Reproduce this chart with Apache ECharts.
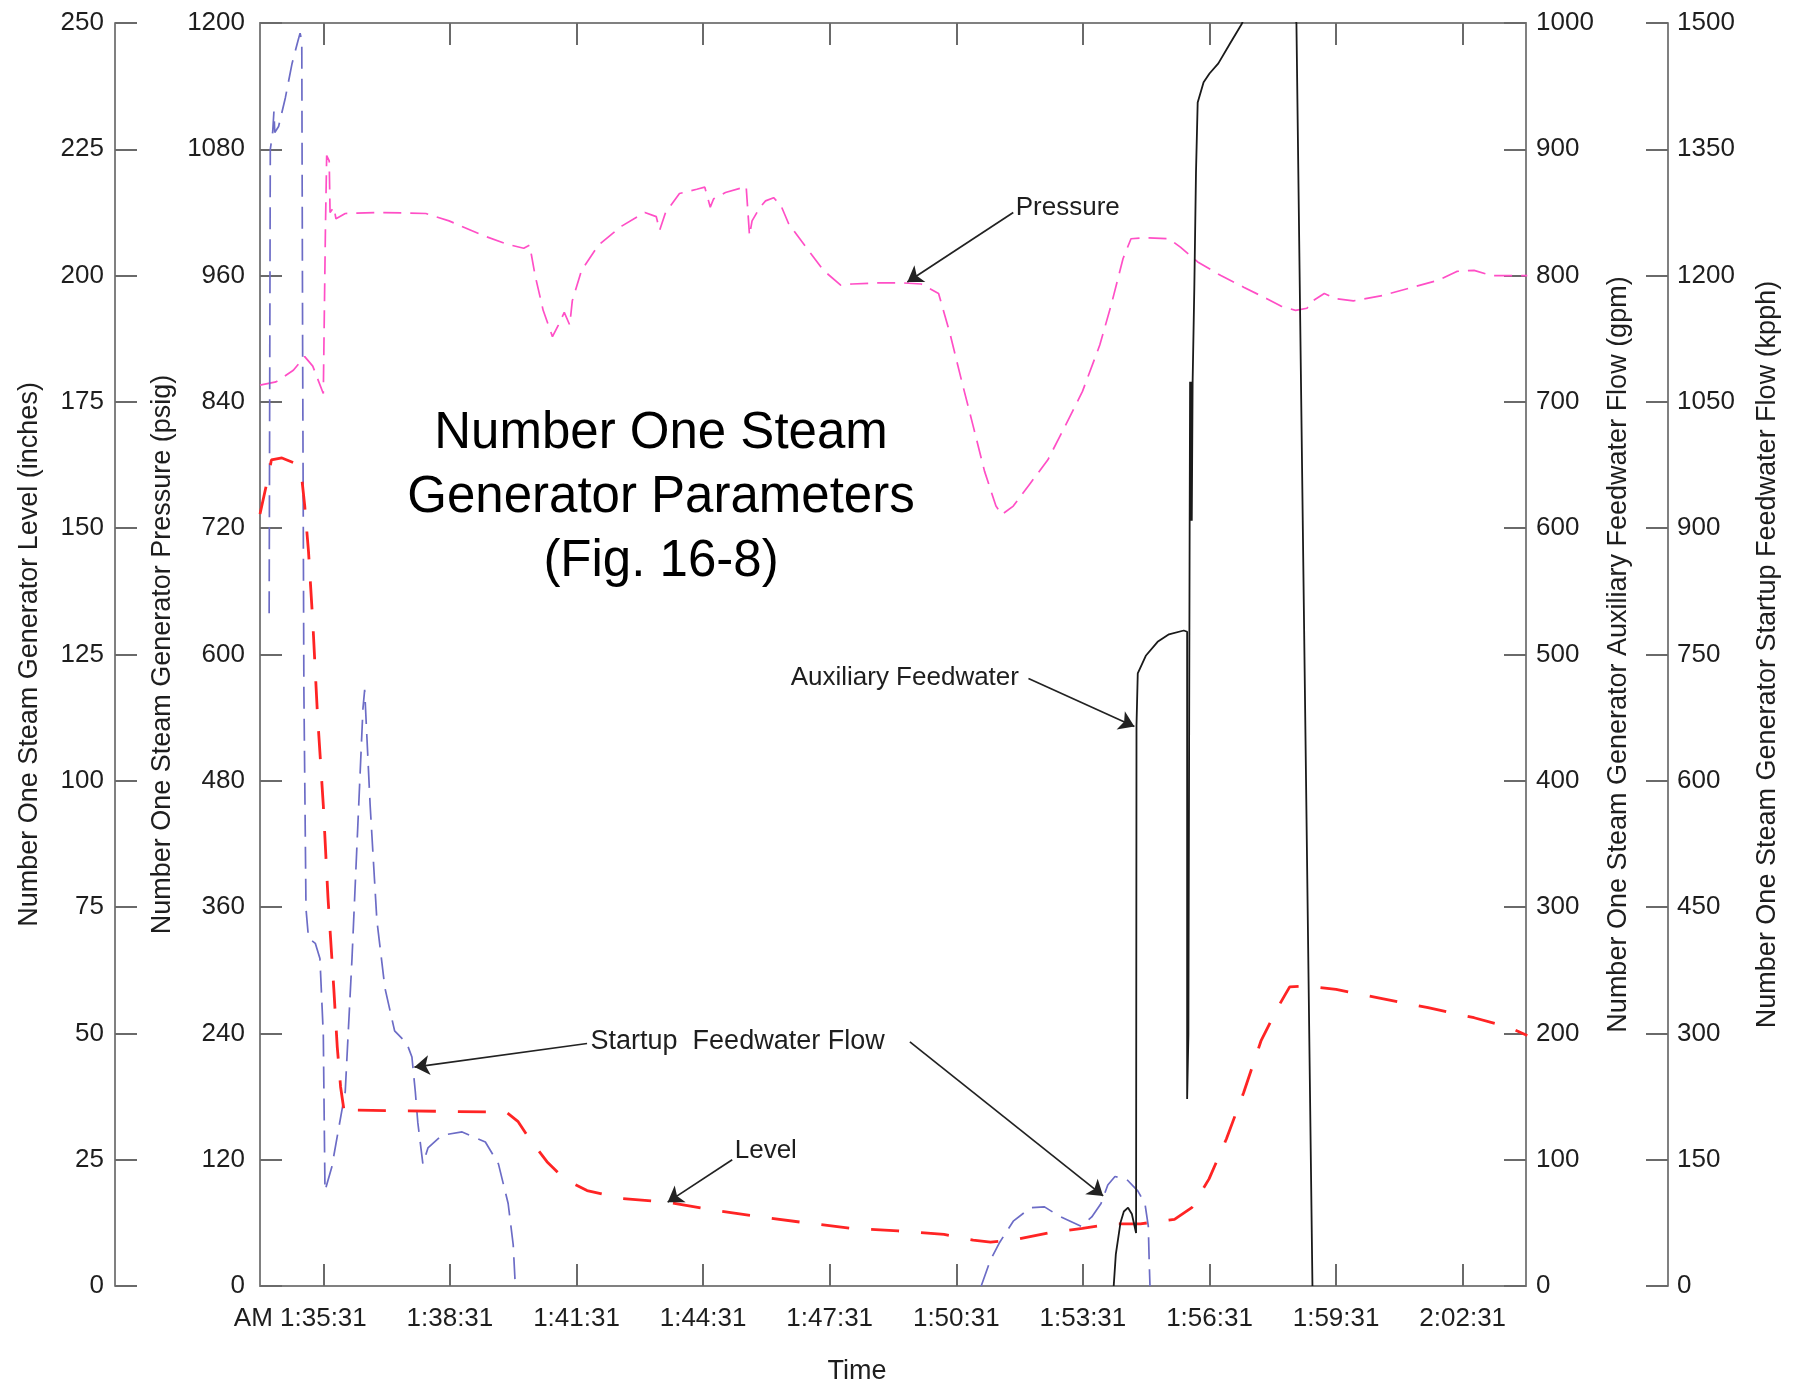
<!DOCTYPE html>
<html>
<head>
<meta charset="utf-8">
<script src="https://cdn.jsdelivr.net/npm/echarts@6/dist/echarts.min.js"></script>
<style>
html,body{margin:0;padding:0;background:#fff;}
#chart{width:1804px;height:1392px;}
</style>
</head>
<body>
<div id="chart"></div>
<script>
// x values: minutes after 1:35:31 AM
const xTickMinutes = [0, 3, 6, 9, 12, 15, 18, 21, 24, 27];
const xTickLabels = ['1:35:31', '1:38:31', '1:41:31', '1:44:31', '1:47:31', '1:50:31', '1:53:31', '1:56:31', '1:59:31', '2:02:31'];

// Steam generator pressure (psig)
const pressureData = [
  [-1.50,856],[-1.12,859],[-0.71,870],[-0.44,883],[-0.25,874],[0.00,848],[0.05,1003],[0.08,1074],[0.14,1069],[0.16,1020],
  [0.25,1025],[0.30,1014],[0.52,1019],[1.34,1020],[2.43,1019],[2.98,1012],[3.79,998],[4.34,990],[4.75,986],[4.89,989],
  [5.02,960],[5.21,927],[5.43,902],[5.57,913],[5.71,925],[5.84,913],[5.90,936],[6.12,965],[6.52,989],[7.07,1007],
  [7.62,1020],[7.89,1016],[7.97,1003],[8.11,1020],[8.44,1038],[8.85,1042],[9.04,1044],[9.17,1025],[9.25,1033],[9.53,1039],
  [9.88,1043],[10.02,1045],[10.10,998],[10.16,1012],[10.35,1025],[10.48,1031],[10.67,1034],[10.84,1027],[11.03,1009],[11.44,987],
  [11.85,965],[12.26,951],[12.53,952],[13.08,953],[13.76,953],[14.17,952],[14.58,943],[14.85,905],[15.12,861],[15.40,817],
  [15.67,774],[15.94,741],[16.08,733],[16.35,741],[16.76,763],[17.17,785],[17.58,817],[17.99,850],[18.40,894],[18.67,932],
  [18.95,976],[19.14,995],[19.49,996],[20.04,995],[20.31,987],[20.72,973],[21.27,960],[21.81,949],[22.36,938],[22.69,931],
  [23.04,927],[23.31,929],[23.45,936],[23.72,943],[24.00,938],[24.41,936],[25.09,941],[25.91,950],[26.45,956],[26.86,964],
  [27.27,965],[27.68,960],[28.53,960]
];

// Steam generator level (inches)
const levelData = [
  [-1.50,152.8],[-1.34,158.9],[-1.23,163.5],[-0.98,163.9],[-0.71,163.0],[-0.52,160.7],[-0.44,154.4],[-0.35,145.3],[-0.25,131.6],[-0.14,113.4],
  [0.00,95.2],[0.11,77.0],[0.25,58.7],[0.33,47.4],[0.41,39.4],[0.49,34.8],[0.60,34.2],[0.68,35.5],[0.79,34.8],[4.34,34.4],
  [4.61,32.6],[4.89,29.1],[5.30,24.6],[5.71,21.2],[6.25,18.9],[7.07,17.3],[8.16,16.6],[9.25,15.0],[10.35,13.7],[11.44,12.5],
  [12.53,11.4],[13.62,10.9],[14.71,10.2],[15.40,9.1],[15.81,8.7],[16.35,9.1],[17.17,10.5],[17.99,11.4],[18.67,12.3],[19.36,12.3],
  [20.17,13.2],[20.58,15.5],[20.99,21.2],[21.40,29.1],[21.81,38.3],[22.22,48.5],[22.63,55.3],[22.90,59.2],[23.31,59.4],[24.00,58.7],
  [25.09,56.9],[26.18,55.1],[27.27,53.1],[28.09,51.2],[28.53,49.6]
];

// Startup feedwater flow (kpph)
const startupData = [
  [-1.283,799],[-1.256,1350],[-1.20,1370],[-1.17,1395],[-1.15,1370],[-1.06,1377],[-0.90,1411],[-0.74,1452],[-0.60,1479],[-0.55,1488],
  [-0.51,1479],[-0.49,1117],[-0.46,708],[-0.41,448],[-0.35,413],[-0.19,407],[-0.08,389],[0.00,299],[0.04,113],[0.20,141],
  [0.52,231],[0.68,389],[0.82,549],[0.94,686],[0.98,708],[1.11,571],[1.27,434],[1.46,354],[1.69,303],[1.98,288],
  [2.10,272],[2.18,231],[2.24,194],[2.36,145],[2.48,164],[2.81,179],[3.29,183],[3.84,171],[4.15,145],[4.38,98],
  [4.50,49],[4.55,0],[10.0,'-'],
  [15.59,0],[15.81,31],[16.03,52],[16.35,77],[16.76,93],[17.09,94],[17.44,83],[17.96,71],[18.21,82],[18.43,98],
  [18.59,120],[18.76,130],[19.03,127],[19.30,113],[19.47,98],[19.55,71],[19.57,31],[19.59,0]
];

// Auxiliary feedwater flow (gpm)
const auxData = [
  [18.73,0],[18.78,25],[18.89,50],[18.97,59],[19.07,62],[19.16,57],[19.26,42],[19.27,444],[19.30,485],[19.49,499],
  [19.77,510],[20.04,516],[20.39,519],[20.47,518],[20.47,148],[20.50,199],[20.53,606],[20.54,716],[20.56,606],[20.57,716],
  [20.58,606],[20.60,716],[20.64,790],[20.68,882],[20.72,937],[20.86,953],[21.00,960],[21.21,968],[21.49,984],[21.76,999],
  [22.30,1040],[22.70,1045],[23.06,1000],[23.44,0]
];

// Annotation arrows [start, end] in each series' own units
const pressureArrow = [[16.35,1020],[13.84,954]];
const auxArrow = [[16.71,481],[19.22,443]];
const startupArrowA = [[6.25,288],[2.16,260]];
const startupArrowB = [[13.90,290],[18.48,107]];
const levelArrow = [[9.69,25.0],[8.16,16.6]];

const FONT = '"Liberation Sans", Arial, Helvetica, sans-serif';
const TXT = '#1e1e1e';
const AXC = '#808080';

function arrowLine(arr) {
  return {
    silent: true,
    symbol: ['none', 'arrow'],
    symbolSize: 15,
    lineStyle: { color: '#222', width: 1.7, type: 'solid' },
    label: { show: false },
    emphasis: { disabled: true },
    animation: false,
    data: arr.map(a => [{ coord: a[0] }, { coord: a[1] }])
  };
}
function textMark(items) {
  return {
    silent: true,
    symbol: 'circle',
    symbolSize: 1,
    itemStyle: { color: 'rgba(0,0,0,0)' },
    animation: false,
    data: items.map(it => ({
      coord: it.coord,
      label: {
        show: true, position: it.pos, distance: it.dist, offset: it.offset,
        formatter: it.text, fontSize: it.size || 25, color: TXT, fontFamily: FONT
      }
    }))
  };
}

function yAxisDef(opt, margin) {
  return Object.assign({
    type: 'value',
    nameLocation: 'middle',
    nameRotate: 90,
    nameTextStyle: { fontSize: 27, color: TXT, fontFamily: FONT },
    axisLine: { show: true, onZero: false, lineStyle: { color: AXC, width: 2 } },
    axisTick: { show: true, inside: true, length: 22, lineStyle: { color: '#6a6a6a', width: 2 } },
    axisLabel: { fontSize: 26, color: TXT, fontFamily: FONT, margin: margin, formatter: v => String(v) },
    splitLine: { show: false }
  }, opt);
}

const chart = echarts.init(document.getElementById('chart'), null, { renderer: 'canvas' });
const option = {
  animation: false,
  backgroundColor: '#ffffff',
  grid: { left: 260, right: 278, top: 23, bottom: 106 },
  graphic: [{
    type: 'text',
    x: 661, y: 402,
    z: 10,
    style: {
      text: 'Number One Steam\nGenerator Parameters\n(Fig. 16-8)',
      font: '51px "Liberation Sans", Arial, sans-serif',
      fill: '#000',
      align: 'center',
      verticalAlign: 'top',
      lineHeight: 64
    }
  }],
  xAxis: [{
    type: 'value', min: -1.5, max: 28.5, position: 'bottom',
    name: 'Time', nameLocation: 'middle', nameGap: 72,
    nameTextStyle: { fontSize: 27, color: TXT, fontFamily: FONT, padding: [0, 72, 0, 0] },
    axisLine: { show: true, onZero: false, lineStyle: { color: AXC, width: 2 } },
    axisTick: { show: true, inside: true, length: 22, customValues: xTickMinutes, lineStyle: { color: '#6a6a6a', width: 2 } },
    axisLabel: {
      customValues: xTickMinutes, margin: 20, fontSize: 26, color: TXT, fontFamily: FONT,
      formatter: function (v) {
        const i = xTickMinutes.findIndex(m => Math.abs(m - v) < 1e-6);
        if (i < 0) return '';
        if (i === 0) return '{am|AM }{t|' + xTickLabels[0] + '}{pad|}';
        return xTickLabels[i];
      },
      rich: {
        am: { fontSize: 26, color: TXT, fontFamily: FONT },
        t: { fontSize: 26, color: TXT, fontFamily: FONT },
        pad: { width: 46 }
      }
    },
    splitLine: { show: false }
  }, {
    type: 'value', min: -1.5, max: 28.5, position: 'top',
    axisLine: { show: true, onZero: false, lineStyle: { color: AXC, width: 2 } },
    axisTick: { show: true, inside: true, length: 22, customValues: xTickMinutes, lineStyle: { color: '#6a6a6a', width: 2 } },
    axisLabel: { show: false },
    splitLine: { show: false }
  }],
  yAxis: [
    yAxisDef({ name: 'Number One Steam Generator Level (inches)', position: 'left', offset: 145, min: 0, max: 250, interval: 25, nameGap: 72 }, 11),
    yAxisDef({ name: 'Number One Steam Generator Pressure (psig)', position: 'left', offset: 0, min: 0, max: 1200, interval: 120, nameGap: 74 }, 15),
    yAxisDef({ name: 'Number One Steam Generator Auxiliary Feedwater Flow (gpm)', position: 'right', offset: 0, min: 0, max: 1000, interval: 100, nameGap: 74 }, 10),
    yAxisDef({ name: 'Number One Steam Generator Startup Feedwater Flow (kpph)', position: 'right', offset: 142, min: 0, max: 1500, interval: 150, nameGap: 86 }, 9)
  ],
  series: [
    {
      name: 'Pressure', type: 'line', xAxisIndex: 0, yAxisIndex: 1, data: pressureData,
      showSymbol: false, symbol: 'none', clip: true, z: 3,
      lineStyle: { color: '#ff4fc6', width: 1.7, type: [18, 9] },
      markLine: arrowLine([pressureArrow]),
      markPoint: textMark([{ coord: pressureArrow[0], pos: 'right', dist: 2, offset: [0, -5], text: 'Pressure', size: 26 }])
    },
    {
      name: 'Level', type: 'line', xAxisIndex: 0, yAxisIndex: 0, data: levelData,
      showSymbol: false, symbol: 'none', clip: true, z: 4,
      lineStyle: { color: '#ff2424', width: 2.8, type: [28, 22] },
      markLine: arrowLine([levelArrow]),
      markPoint: textMark([{ coord: levelArrow[0], pos: 'right', dist: 2, offset: [0, -9], text: 'Level', size: 26 }])
    },
    {
      name: 'Startup Feedwater Flow', type: 'line', xAxisIndex: 0, yAxisIndex: 3, data: startupData,
      showSymbol: false, symbol: 'none', clip: true, connectNulls: false, z: 3,
      lineStyle: { color: '#6c6cc6', width: 1.7, type: [22, 10] },
      markLine: arrowLine([startupArrowA, startupArrowB]),
      markPoint: textMark([{ coord: startupArrowA[0], pos: 'right', dist: 3, offset: [0, -2], text: 'Startup  Feedwater Flow', size: 27 }])
    },
    {
      name: 'Auxiliary Feedwater', type: 'line', xAxisIndex: 0, yAxisIndex: 2, data: auxData,
      showSymbol: false, symbol: 'none', clip: true, z: 5,
      lineStyle: { color: '#1a1a1a', width: 1.8, type: 'solid' },
      markLine: arrowLine([auxArrow]),
      markPoint: textMark([{ coord: auxArrow[0], pos: 'left', dist: 9, offset: [0, -1], text: 'Auxiliary Feedwater', size: 26 }])
    }
  ]
};
chart.setOption(option);
</script>
</body>
</html>
